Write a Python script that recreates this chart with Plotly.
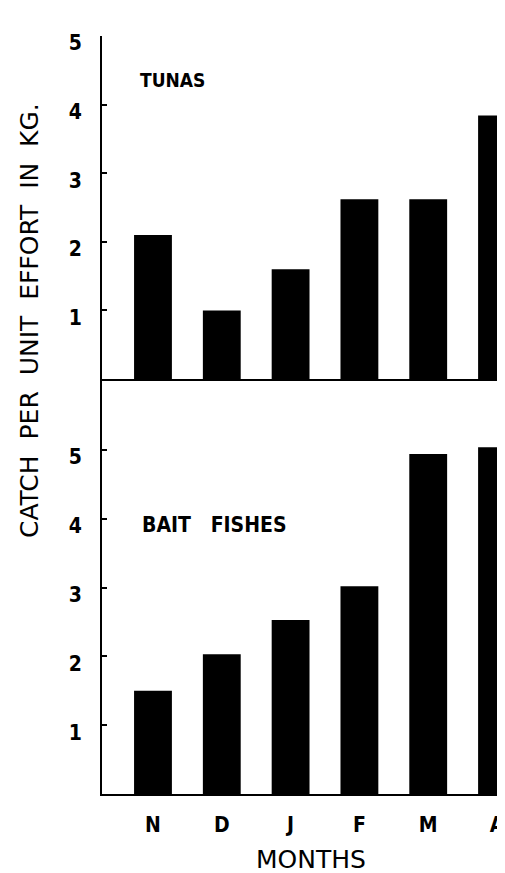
import plotly.graph_objects as go

months = ["N", "D", "J", "F", "M", "A"]
tunas = [2.1, 1.0, 1.6, 2.62, 2.62, 3.84]
bait_fishes = [1.5, 2.03, 2.53, 3.02, 4.94, 5.04]
y_ticks = [1, 2, 3, 4, 5]

BOLD = "DejaVu Sans Condensed"
PLAIN = "DejaVu Sans"

fig = go.Figure()
fig.add_trace(go.Bar(x=months, y=tunas, xaxis="x2", yaxis="y",
                     marker=dict(color="black", line=dict(width=0)), showlegend=False))
fig.add_trace(go.Bar(x=months, y=bait_fishes, xaxis="x", yaxis="y2",
                     marker=dict(color="black", line=dict(width=0)), showlegend=False))

xr = [-0.741, 5.116]
split = 0.5475

yax_common = dict(tickvals=y_ticks, ticks="inside", ticklen=5, tickwidth=2, tickcolor="black",
                  showline=True, linecolor="black", linewidth=2, showgrid=False,
                  zeroline=False, automargin=False,
                  tickfont=dict(family=BOLD, size=21, color="black", weight="bold"),
                  ticklabelstandoff=14, ticklabelshift=7)

# the page body has an 8px default margin, so the figure is sized/offset to fill 505x873
fig.update_layout(
    template="none",
    width=497, height=865,
    margin=dict(l=94, r=0, t=28, b=79, pad=0),
    paper_bgcolor="white", plot_bgcolor="white",
    bargap=0.45,
    xaxis=dict(type="category", range=xr, anchor="y2", showline=True, linecolor="black",
               linewidth=2, ticks="", showgrid=False, zeroline=False, automargin=False,
               tickfont=dict(family=BOLD, size=21, color="black", weight="bold"),
               ticklabelstandoff=11, ticklabelshift=0),
    xaxis2=dict(type="category", range=xr, anchor="y", matches="x", showline=True,
                linecolor="black", linewidth=2, ticks="", showticklabels=False,
                showgrid=False, zeroline=False, automargin=False),
    yaxis=dict(domain=[split, 1], range=[0, 5.0], **yax_common),
    yaxis2=dict(domain=[0, split], range=[0, 6.03], **yax_common),
)

fig.add_annotation(text="TUNAS", xref="x2", yref="y", x=-0.22, y=4.36, xanchor="left",
                   yanchor="middle", showarrow=False,
                   font=dict(family=BOLD, size=19, color="black", weight="bold"))
fig.add_annotation(text="BAIT   FISHES", xref="x", yref="y2", x=-0.19, y=3.91, xanchor="left",
                   yanchor="middle", showarrow=False,
                   font=dict(family=BOLD, size=21, color="black", weight="bold"))
fig.add_annotation(text="MONTHS", xref="paper", yref="paper", x=0.519, y=-0.087,
                   xanchor="center", yanchor="middle", showarrow=False,
                   font=dict(family=PLAIN, size=25, color="black"))
fig.add_annotation(text="CATCH  PER  UNIT  EFFORT  IN  KG.", xref="paper", yref="paper",
                   x=-0.181, y=0.624, xanchor="center", yanchor="middle", textangle=-90,
                   showarrow=False, font=dict(family=PLAIN, size=25, color="black"))

fig.write_html("out.html")
